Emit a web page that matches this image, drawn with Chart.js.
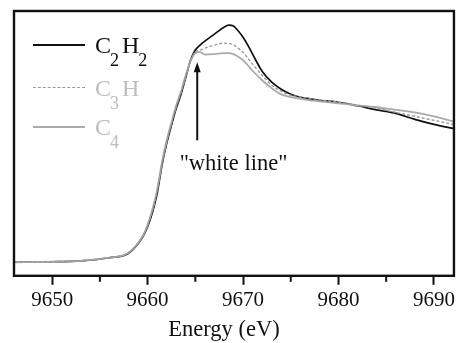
<!DOCTYPE html>
<html>
<head>
<meta charset="utf-8">
<script src="https://cdn.jsdelivr.net/npm/chart.js@4.4.1/dist/chart.umd.min.js"></script>
<style>
  body { margin: 0; background: #fff; }
  #wrap { position: relative; width: 458px; height: 343px; }
  #legend { position: absolute; left: 0; top: 0; font-family: 'Liberation Serif', 'Times New Roman', serif; }
  .row { position: absolute; left: 33px; white-space: nowrap; }
  .swatch { position: absolute; left: 0; width: 52px; height: 0; }
  .lbl { position: absolute; left: 62px; top: 0; font-size: 24px; line-height: 24px; }
  .lbl span { font-size: 18px; vertical-align: -13px; margin-left: -1px; margin-right: 3px; }
</style>
</head>
<body>
<div id="wrap">
  <canvas id="xasChart" width="458" height="343"></canvas>
  <div id="legend"></div>
</div>
<script>
// energies (eV) and normalised absorption
const energies = [9646, 9650, 9653, 9656, 9658, 9659.5, 9660, 9660.5, 9661, 9661.5,
  9662, 9662.5, 9663, 9663.5, 9664, 9664.5, 9665, 9665.5, 9666, 9667,
  9668, 9668.5, 9669, 9669.5, 9670, 9670.5, 9671, 9672, 9673, 9674,
  9675, 9676, 9677, 9678, 9680, 9682, 9684, 9686, 9688, 9690, 9692];

const c2h2 = [-0.003, 0, 0.006, 0.025, 0.053, 0.155, 0.217, 0.304, 0.422, 0.596,
  0.733, 0.845, 0.950, 1.037, 1.143, 1.248, 1.311, 1.342, 1.366, 1.410,
  1.453, 1.466, 1.460, 1.429, 1.391, 1.342, 1.286, 1.180, 1.112, 1.068,
  1.037, 1.019, 1.009, 1.000, 0.988, 0.966, 0.941, 0.919, 0.882, 0.851, 0.826];

const c3h = [-0.003, 0, 0.006, 0.025, 0.056, 0.158, 0.224, 0.314, 0.435, 0.606,
  0.742, 0.854, 0.960, 1.047, 1.149, 1.248, 1.298, 1.311, 1.323, 1.342,
  1.354, 1.351, 1.342, 1.323, 1.298, 1.261, 1.224, 1.155, 1.093, 1.056,
  1.031, 1.019, 1.012, 1.003, 0.988, 0.969, 0.950, 0.925, 0.901, 0.876, 0.851];

const c4 = [-0.003, 0, 0.006, 0.025, 0.056, 0.161, 0.230, 0.323, 0.447, 0.615,
  0.752, 0.863, 0.969, 1.056, 1.155, 1.242, 1.292, 1.298, 1.283, 1.286,
  1.292, 1.292, 1.286, 1.270, 1.248, 1.217, 1.183, 1.124, 1.075, 1.037,
  1.019, 1.009, 1.000, 0.994, 0.981, 0.969, 0.957, 0.941, 0.925, 0.901, 0.870];

const majorTicks = [9650, 9660, 9670, 9680, 9690];
const minorTicks = [9655, 9665, 9675, 9685];
const axisTitle = 'Energy (eV)';

// "white line" arrow: energy, tip and tail in data units
const arrowE = 9665.2;
const arrowTip = 1.236;
const arrowTail = 0.752;
const noteText = '"white line"';
const noteE = 9669.0;
const noteY = 0.57;

const serif = "'Liberation Serif', 'Times New Roman', serif";

const series = [
  { name: ['C', '2', 'H', '2'], data: c2h2, color: '#111', width: 1.7, dash: [], order: 2, text: '#111' },
  { name: ['C', '3', 'H', ''], data: c3h, color: '#9a9a9a', width: 1.4, dash: [3, 2], order: 0, text: '#bdbdbd' },
  { name: ['C', '4', '', ''], data: c4, color: '#aaa', width: 1.8, dash: [], order: 1, text: '#bdbdbd' }
];

Chart.defaults.font.family = serif;
Chart.defaults.color = '#111';

const framePlugin = {
  id: 'frame',
  afterDraw(chart) {
    const ctx = chart.ctx;
    const a = chart.chartArea;
    const xs = chart.scales.x;
    const ys = chart.scales.y;
    ctx.save();
    ctx.strokeStyle = '#111';
    ctx.lineWidth = 2.4;
    ctx.strokeRect(a.left, a.top, a.right - a.left, a.bottom - a.top);

    // minor ticks
    ctx.lineWidth = 2;
    minorTicks.forEach(v => {
      const px = xs.getPixelForValue(v);
      ctx.beginPath();
      ctx.moveTo(px, a.bottom);
      ctx.lineTo(px, a.bottom + 6);
      ctx.stroke();
    });

    // arrow
    const ax = xs.getPixelForValue(arrowE);
    const tipY = ys.getPixelForValue(arrowTip);
    const tailY = ys.getPixelForValue(arrowTail);
    ctx.lineWidth = 2;
    ctx.beginPath();
    ctx.moveTo(ax, tailY);
    ctx.lineTo(ax, tipY + 6);
    ctx.stroke();
    ctx.fillStyle = '#111';
    ctx.beginPath();
    ctx.moveTo(ax, tipY);
    ctx.lineTo(ax - 3.5, tipY + 10);
    ctx.lineTo(ax + 3.5, tipY + 10);
    ctx.closePath();
    ctx.fill();

    ctx.textBaseline = 'alphabetic';
    ctx.textAlign = 'center';
    ctx.font = '22.5px ' + serif;
    ctx.fillText(noteText, xs.getPixelForValue(noteE), ys.getPixelForValue(noteY));

    // axis title (sits a little left of centre in the original)
    ctx.font = '22.5px ' + serif;
    ctx.fillText(axisTitle, (a.left + a.right) / 2 - 10, 336);
    ctx.restore();
  }
};

new Chart(document.getElementById('xasChart'), {
  type: 'line',
  data: {
    labels: energies,
    datasets: series.map(s => ({
      label: s.name.join(''),
      data: energies.map((e, i) => ({ x: e, y: s.data[i] })),
      borderColor: s.color,
      borderWidth: s.width,
      borderDash: s.dash,
      pointRadius: 0,
      cubicInterpolationMode: 'monotone',
      fill: false,
      order: s.order
    }))
  },
  options: {
    responsive: false,
    animation: false,
    layout: { padding: { left: 14, right: 2, top: 11, bottom: 27 } },
    plugins: { legend: { display: false }, tooltip: { enabled: false } },
    scales: {
      x: {
        type: 'linear',
        min: 9646,
        max: 9692.1,
        border: { display: false },
        grid: { drawOnChartArea: false, tickLength: 9, tickWidth: 2, tickColor: '#111' },
        ticks: {
          includeBounds: false,
          stepSize: 10,
          padding: 3,
          color: '#111',
          font: { family: serif, size: 21 },
          maxRotation: 0,
          callback: v => majorTicks.includes(v) ? String(v) : ''
        }
      },
      y: {
        display: false,
        min: -0.087,
        max: 1.553
      }
    }
  },
  plugins: [framePlugin]
});

// legend built from the series list
const legend = document.getElementById('legend');
const rowTops = [45, 88, 127];
series.forEach((s, i) => {
  const row = document.createElement('div');
  row.className = 'row';
  row.style.top = rowTops[i] + 'px';
  const sw = document.createElement('div');
  sw.className = 'swatch';
  sw.style.borderTop = s.dash.length ? '1.5px dashed ' + s.color : '2px solid ' + s.color;
  sw.style.top = '-1px';
  row.appendChild(sw);
  const lbl = document.createElement('div');
  lbl.className = 'lbl';
  lbl.style.color = s.text;
  lbl.style.top = '-12px';
  const [a, subA, b, subB] = s.name;
  lbl.innerHTML = a + '<span>' + subA + '</span>' + b + (subB ? '<span>' + subB + '</span>' : '');
  row.appendChild(lbl);
  legend.appendChild(row);
});
</script>
</body>
</html>
